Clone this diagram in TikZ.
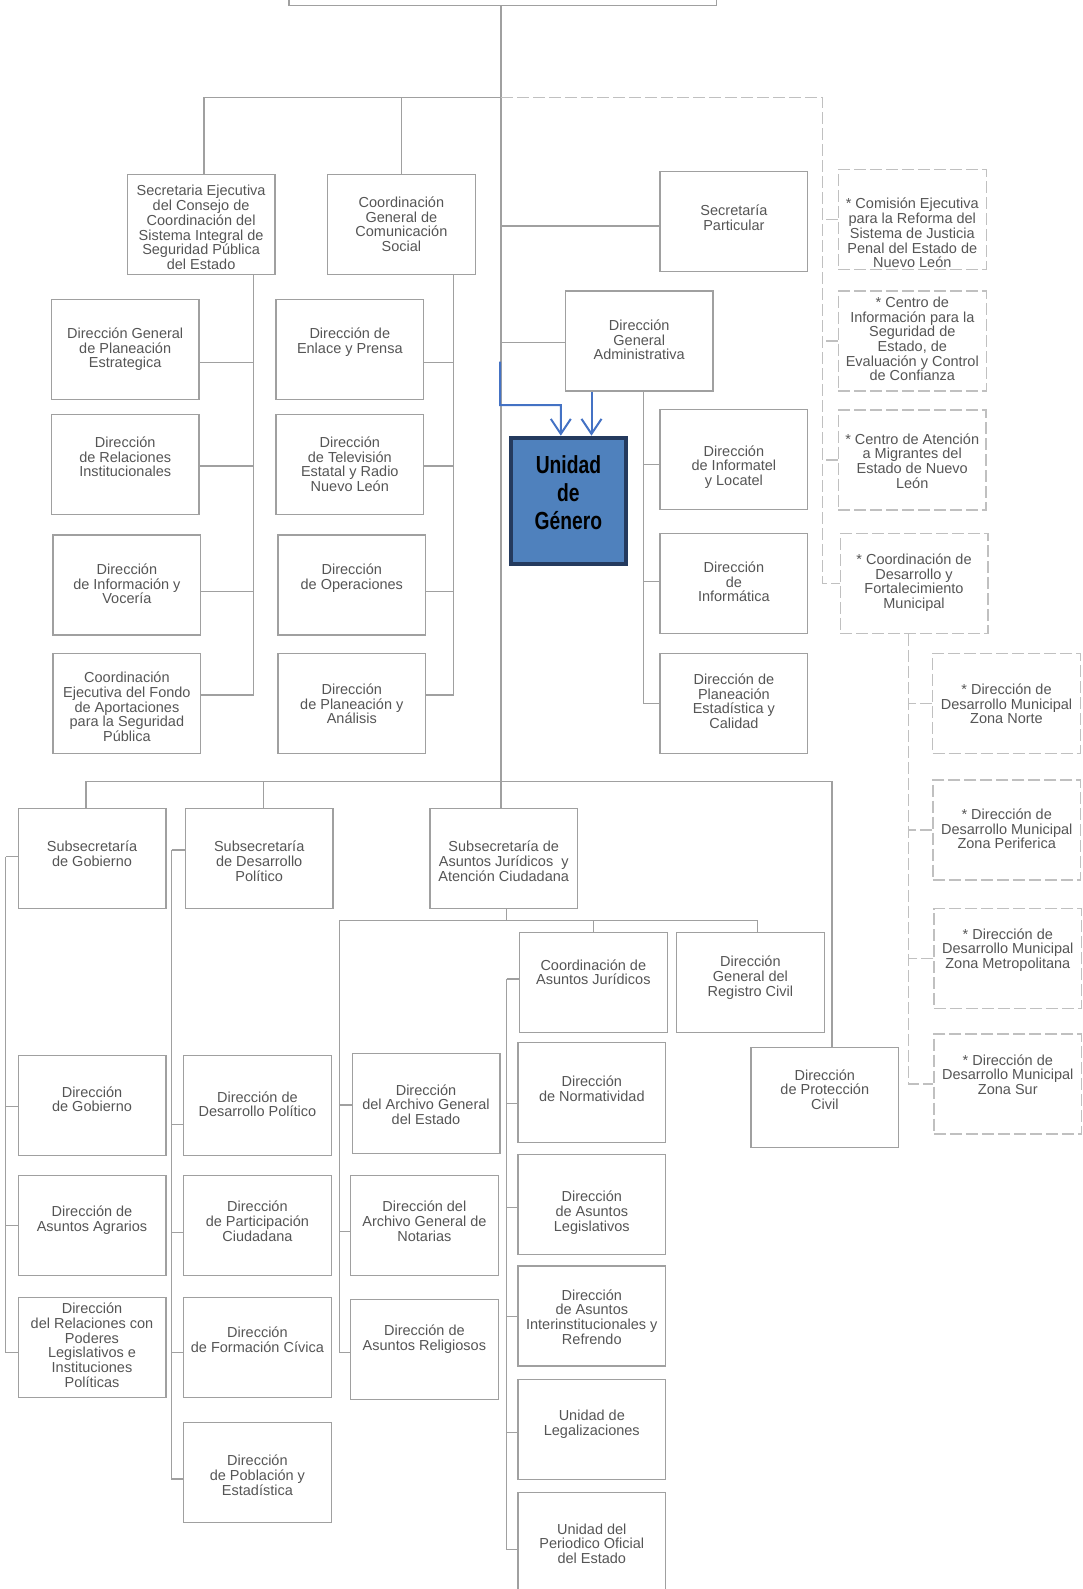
\documentclass[tikz,border=0pt]{standalone}
\usepackage{fontspec}
\setmainfont{Liberation Sans}
\newfontfamily\angosta[FakeStretch=0.78]{Liberation Sans}
\usetikzlibrary{arrows.meta}

\definecolor{gris}{RGB}{160,160,160}
\definecolor{grisclaro}{RGB}{192,192,192}
\definecolor{texto}{RGB}{85,85,85}
\definecolor{azul}{RGB}{68,114,196}
\definecolor{relleno}{RGB}{79,129,189}
\definecolor{marino}{RGB}{36,58,94}

\lineskiplimit=-20pt
% texto de una caja: primera linea de base a #1 del borde superior
\newcommand{\cajatxt}[2]{\parbox[c][100pt][t]{147.7pt}{\centering\rule{0pt}{#1pt}#2}}

\tikzset{
  caja/.style={draw=gris, line width=1.3pt, inner sep=0pt, text=texto,
    font=\fontsize{14.5}{14.7}\selectfont},
  cajaP/.style={caja, draw=grisclaro, dash pattern=on 12pt off 4pt},
  linea/.style={draw=gris, line width=1.3pt},
  punteada/.style={draw=grisclaro, line width=1.3pt, dash pattern=on 12pt off 4pt},
  genero/.style={draw=marino, line width=4pt, fill=relleno, inner sep=0pt,
    font=\angosta\bfseries\fontsize{24.7}{28}\selectfont},
  flecha/.style={draw=azul, line width=2pt, -{Straight Barb[length=15pt,width=20pt]}}
}

\begin{document}
\begin{tikzpicture}[x=1pt, y=-1pt]
    \useasboundingbox (0,0) rectangle (1083,1589);

    % titular (cortado arriba)
    \node[caja, minimum width=427.5pt, minimum height=60pt] (titular) at (502.75,-24.3) {};

    % primer nivel
    \node[caja] (secEjec) at (201.1,224.3) {\cajatxt{21.7}{Secretaria Ejecutiva\\del Consejo de\\Coordinación del\\Sistema Integral de\\Seguridad Pública\\del Estado}};
    \node[caja] (coordCom) at (401.4,224.5) {\cajatxt{33}{Coordinación\\General de\\Comunicación\\Social}};
    \node[caja] (secPart) at (733.9,221.2) {\cajatxt{44.7}{Secretaría\\Particular}};
    \node[caja] (dga) at (639.2,341) {\cajatxt{39.3}{Dirección\\General\\Administrativa}};

    % organismos (punteados)
    \node[cajaP] (comision) at (912.3,219.3) {\cajatxt{39.7}{* Comisión Ejecutiva\\para la Reforma del\\Sistema de Justicia\\Penal del Estado de\\Nuevo León}};
    \node[cajaP] (centroInfo) at (912.3,341) {\cajatxt{16.3}{* Centro de\\Información para la\\Seguridad de\\Estado, de\\Evaluación y Control\\de Confianza}};
    \node[cajaP] (centroMig) at (912.2,460) {\cajatxt{34}{* Centro de Atención\\a Migrantes del\\Estado de Nuevo\\León}};
    \node[cajaP] (coordDes) at (914,583.3) {\cajatxt{31}{* Coordinación de\\Desarrollo y\\Fortalecimiento\\Municipal}};
    \node[cajaP] (zNorte) at (1006.5,703.3) {\cajatxt{41}{* Dirección de\\Desarrollo Municipal\\Zona Norte}};
    \node[cajaP] (zPerif) at (1006.7,830) {\cajatxt{39.3}{* Dirección de\\Desarrollo Municipal\\Zona Periferica}};
    \node[cajaP] (zMetro) at (1007.8,958.7) {\cajatxt{30.3}{* Dirección de\\Desarrollo Municipal\\Zona Metropolitana}};
    \node[cajaP] (zSur) at (1007.8,1084) {\cajatxt{31}{* Dirección de\\Desarrollo Municipal\\Zona Sur}};

    % direcciones de la Secretaria Ejecutiva y de Comunicación
    \node[caja] (dgPlan) at (125.2,349.3) {\cajatxt{39}{Dirección General\\de Planeación\\Estrategica}};
    \node[caja] (relInst) at (125.2,464.8) {\cajatxt{32.6}{Dirección\\de Relaciones\\Institucionales}};
    \node[caja] (infoVoc) at (126.9,585) {\cajatxt{39.3}{Dirección\\de Información y\\Vocería}};
    \node[caja] (fondo) at (126.9,703.3) {\cajatxt{29.4}{Coordinación\\Ejecutiva del Fondo\\de Aportaciones\\para la Seguridad\\Pública}};
    \node[caja] (enlace) at (349.8,349.3) {\cajatxt{39}{Dirección de\\Enlace y Prensa}};
    \node[caja] (tele) at (349.8,464.8) {\cajatxt{32.6}{Dirección\\de Televisión\\Estatal y Radio\\Nuevo León}};
    \node[caja] (oper) at (351.8,585) {\cajatxt{39.3}{Dirección\\de Operaciones}};
    \node[caja] (planAn) at (351.8,703.3) {\cajatxt{41}{Dirección\\de Planeación y\\Análisis}};

    % direcciones de la DGA
    \node[caja] (informatel) at (733.9,459.7) {\cajatxt{46.3}{Dirección\\de Informatel\\y Locatel}};
    \node[caja] (informatica) at (733.9,583.3) {\cajatxt{39}{Dirección\\de\\Informática}};
    \node[caja] (planEst) at (733.9,703.3) {\cajatxt{31}{Dirección de\\Planeación\\Estadística y\\Calidad}};

    % Unidad de Género
    \node[genero] (unidad) at (568.4,500.7) {\parbox[c][126pt][t]{115.2pt}{\centering\rule{0pt}{36.2pt}Unidad\\de\\Género}};

    % subsecretarias
    \node[caja] (subGob) at (92,858.3) {\cajatxt{43.4}{Subsecretaría\\de Gobierno}};
    \node[caja] (subDes) at (259.2,858.3) {\cajatxt{43.4}{Subsecretaría\\de Desarrollo\\Político}};
    \node[caja] (subAJ) at (503.7,858.3) {\cajatxt{43.4}{Subsecretaría de\\Asuntos Jurídicos\ \ y\\Atención Ciudadana}};
    \node[caja] (coordAJ) at (593.3,982.2) {\cajatxt{38}{Coordinación de\\Asuntos Jurídicos}};
    \node[caja] (regCiv) at (750.4,982.2) {\cajatxt{34.7}{Dirección\\General del\\Registro Civil}};
    \node[caja] (protCiv) at (824.8,1097.3) {\cajatxt{32.7}{Dirección\\de Protección\\Civil}};

    % columna de Gobierno
    \node[caja] (dirGob) at (92,1105.3) {\cajatxt{41.7}{Dirección\\de Gobierno}};
    \node[caja] (agrarios) at (92,1225.8) {\cajatxt{41}{Dirección de\\Asuntos Agrarios}};
    \node[caja] (relPod) at (92,1347.3) {\cajatxt{16.3}{Dirección\\del Relaciones con\\Poderes\\Legislativos e\\Instituciones\\Políticas}};

    % columna de Desarrollo Político
    \node[caja] (dirDesPol) at (257.4,1105.3) {\cajatxt{46.7}{Dirección de\\Desarrollo Político}};
    \node[caja] (partic) at (257.4,1225.8) {\cajatxt{36}{Dirección\\de Participación\\Ciudadana}};
    \node[caja] (civica) at (257.4,1347.3) {\cajatxt{40.3}{Dirección\\de Formación Cívica}};
    \node[caja] (poblac) at (257.4,1472.7) {\cajatxt{43}{Dirección\\de Población y\\Estadística}};

    % columna de Asuntos Jurídicos
    \node[caja] (archivo) at (426,1103.8) {\cajatxt{41.3}{Dirección\\del Archivo General\\del Estado}};
    \node[caja] (notarias) at (424.4,1225.8) {\cajatxt{36}{Dirección del\\Archivo General de\\Notarias}};
    \node[caja] (religiosos) at (424.4,1349.3) {\cajatxt{36.4}{Dirección de\\Asuntos Religiosos}};
    \node[caja] (normat) at (591.8,1092.3) {\cajatxt{44.4}{Dirección\\de Normatividad}};
    \node[caja] (legis) at (591.8,1204.2) {\cajatxt{47.7}{Dirección\\de Asuntos\\Legislativos}};
    \node[caja] (interinst) at (591.8,1316) {\cajatxt{34}{Dirección\\de Asuntos\\Interinstitucionales y\\Refrendo}};
    \node[caja] (legaliz) at (591.8,1429.3) {\cajatxt{41.4}{Unidad de\\Legalizaciones}};
    \node[caja] (periodico) at (591.8,1542.7) {\cajatxt{41.3}{Unidad del\\Periodico Oficial\\del Estado}};

    % puntos de las lineas
    \coordinate (barraA) at (501,97.7);
    \coordinate (guiaA) at (822.5,97.7);
    \coordinate (barraB) at (501,781.7);
    \coordinate (barraC) at (506.2,920.3);
    \coordinate (guiaC) at (339.2,920.3);
    \coordinate (ejeSE) at ([xshift=52.7pt]secEjec.south);
    \coordinate (ejeCC) at ([xshift=51.8pt]coordCom.south);
    \coordinate (ejeDGA) at ([xshift=4.3pt]dga.south);
    \coordinate (ejeCD) at ([xshift=-5.2pt]coordDes.south);
    \coordinate (ejeSG) at ([xshift=-11.8pt, yshift=1.6pt]subGob.west);
    \coordinate (ejeSD) at ([xshift=-13.1pt, yshift=8.3pt]subDes.west);
    \coordinate (ejeCA) at ([xshift=-12.2pt, yshift=3.2pt]coordAJ.west);

    % tronco y primer nivel
    \draw[linea] (titular.south -| barraA) -- (barraB);
    \draw[linea] ([xshift=2.9pt]secEjec.north) |- (barraA);
    \draw[linea] (coordCom.north) -- (coordCom.north |- barraA);
    \draw[linea] ([yshift=-4.8pt]secPart.west) -| (barraA);
    \draw[linea] ([yshift=-1.3pt]dga.west) -| (barraA);

    % ramas punteadas
    \draw[punteada] (barraA) -- (guiaA) -- (guiaA |- coordDes.west) -- (coordDes.west);
    \foreach \n in {comision, centroInfo, centroMig}
        \draw[punteada] (\n.west) -- (\n.west -| guiaA);
    \draw[punteada] (ejeCD) -- (ejeCD |- zSur.west) -- (zSur.west);
    \foreach \n in {zNorte, zPerif, zMetro}
        \draw[punteada] (\n.west) -- (\n.west -| ejeCD);

    % ramas del primer nivel
    \foreach \n/\s in {dgPlan/-13.4, relInst/-1.2, infoVoc/-6.7, fondo/8.3}
        \draw[linea] ([yshift=\s pt]\n.east) -| (ejeSE);
    \foreach \n/\s in {enlace/-13.4, tele/-1.2, oper/-6.7, planAn/8.3}
        \draw[linea] ([yshift=\s pt]\n.east) -| (ejeCC);
    \foreach \n/\s in {informatel/-4.6, informatica/1.6, planEst/0}
        \draw[linea] ([yshift=\s pt]\n.west) -| (ejeDGA);

    % subsecretarias
    \draw[linea] ([xshift=-6pt]subGob.north) |- (barraB) -| ([xshift=7.2pt]protCiv.north);
    \draw[linea] ([xshift=4.2pt]subDes.north) |- (barraB);
    \draw[linea] (subAJ.north -| barraB) -- (barraB);
    \draw[linea] (ejeSG) -- (ejeSG -| subGob.west);
    \draw[linea] (ejeSD) -- (ejeSD -| subDes.west);
    \foreach \n/\s in {dirGob/-1.4, agrarios/0, relPod/-5.4}
        \draw[linea] ([yshift=\s pt]\n.west) -| (ejeSG);
    \foreach \n/\s in {dirDesPol/-19, partic/-6.5, civica/-5, poblac/-6.3}
        \draw[linea] ([yshift=\s pt]\n.west) -| (ejeSD);

    % Asuntos Jurídicos
    \draw[linea] (subAJ.south -| barraC) -- (barraC);
    \draw[linea] (guiaC) -| ([xshift=7.3pt]regCiv.north);
    \draw[linea] (coordAJ.north) |- (barraC);
    \foreach \n/\s in {archivo/-1.2, notarias/-5.9, religiosos/-3}
        \draw[linea] ([yshift=\s pt]\n.west) -| (guiaC);
    \draw[linea] (ejeCA) -- (ejeCA -| coordAJ.west);
    \foreach \n/\s in {normat/-11, legis/-3.1, interinst/-0.7, legaliz/-3.4, periodico/-6.6}
        \draw[linea] ([yshift=\s pt]\n.west) -| (ejeCA);

    % flechas azules
    \coordinate (inicioAzul) at (500,361.7);
    \coordinate (codoAzul) at (560.8,405);
    \draw[flecha] (inicioAzul) |- (codoAzul) -- ([xshift=-7.6pt]unidad.north);
    \draw[flecha] ([xshift=-47.7pt]dga.south) -- ([xshift=23.1pt]unidad.north);
\end{tikzpicture}
\end{document}
